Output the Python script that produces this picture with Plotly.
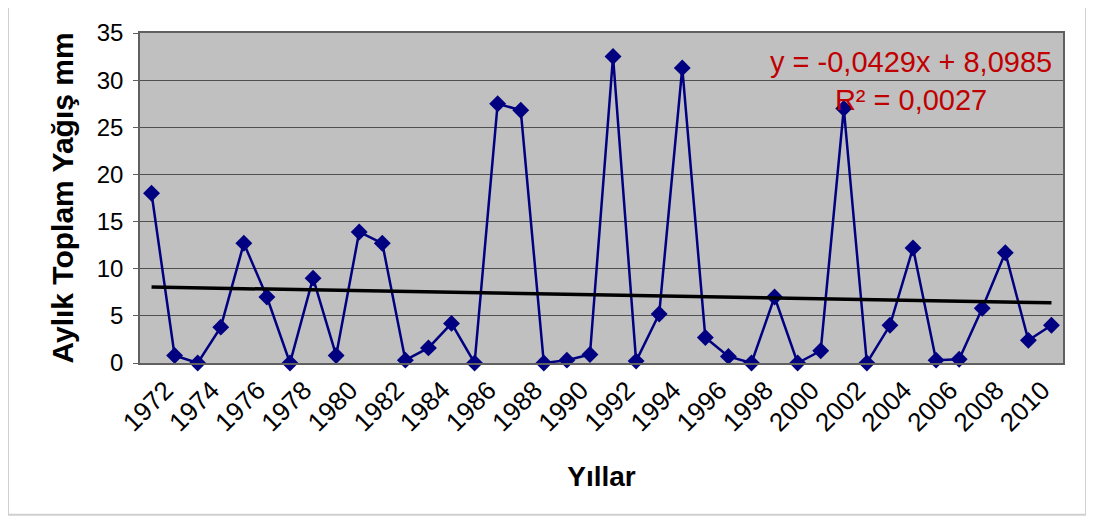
import plotly.graph_objects as go

years = list(range(1972, 2012))
rain = [18.0, 0.8, 0.0, 3.8, 12.7, 7.0, 0.0, 9.0, 0.8, 13.9,
        12.7, 0.3, 1.6, 4.2, 0.0, 27.5, 26.8, 0.0, 0.3, 0.9,
        32.5, 0.2, 5.2, 31.3, 2.7, 0.7, 0.0, 7.0, 0.0, 1.3,
        27.0, 0.0, 4.0, 12.2, 0.3, 0.4, 5.8, 11.7, 2.4, 4.0]
tick_years = list(range(1972, 2011, 2))
y_ticks = [0, 5, 10, 15, 20, 25, 30, 35]

# trendline as printed on the chart (x = 1..n)
slope = -0.0429
intercept = 8.0985
trend = [slope * (i + 1) + intercept for i in range(len(years))]

fig = go.Figure()
fig.add_trace(go.Scatter(x=years, y=rain, mode="lines+markers",
                         line=dict(color="#000080", width=2.5),
                         marker=dict(symbol="diamond", size=13, color="#000080"),
                         cliponaxis=False, showlegend=False))
fig.add_trace(go.Scatter(x=years, y=trend, mode="lines",
                         line=dict(color="black", width=3.5),
                         showlegend=False))

fig.add_annotation(x=0.835, y=0.855, xref="paper", yref="paper",
                   xanchor="center", yanchor="middle",
                   text="y = -0,0429x + 8,0985<br>R² = 0,0027",
                   showarrow=False, align="center",
                   font=dict(family="Liberation Sans, Arial", size=29, color="#c00000"))

fig.add_shape(type="rect", xref="paper", yref="paper",
              x0=-0.143, x1=1.025, y0=-0.46, y1=1.085,
              line=dict(color="#d0d0d0", width=2))

fig.update_layout(
    width=1094, height=525,
    margin=dict(l=132, r=39, t=25, b=170),
    paper_bgcolor="white", plot_bgcolor="#c0c0c0",
    font=dict(family="Liberation Sans, Arial", color="black"),
)
fig.update_xaxes(range=[1971.5, 2011.5], tickvals=tick_years,
                 ticktext=[str(y) for y in tick_years], tickangle=-45,
                 tickfont=dict(size=26), showgrid=False,
                 ticklabelshift=14,
                 showline=True, linecolor="#606060", linewidth=1.5, mirror=True,
                 title=dict(text="<b>Yıllar</b>", font=dict(size=28), standoff=30))
fig.update_yaxes(range=[0, 35], tickvals=y_ticks, tickfont=dict(size=24),
                 showgrid=True, gridcolor="#505050", gridwidth=1,
                 ticks="outside", ticklen=5, tickcolor="#606060",
                 ticklabelstandoff=5,
                 showline=True, linecolor="#606060", linewidth=1.5, mirror=True,
                 zeroline=False,
                 title=dict(text="<b>Aylık Toplam Yağış mm</b>", font=dict(size=30), standoff=14))

fig.write_html("out.html")
